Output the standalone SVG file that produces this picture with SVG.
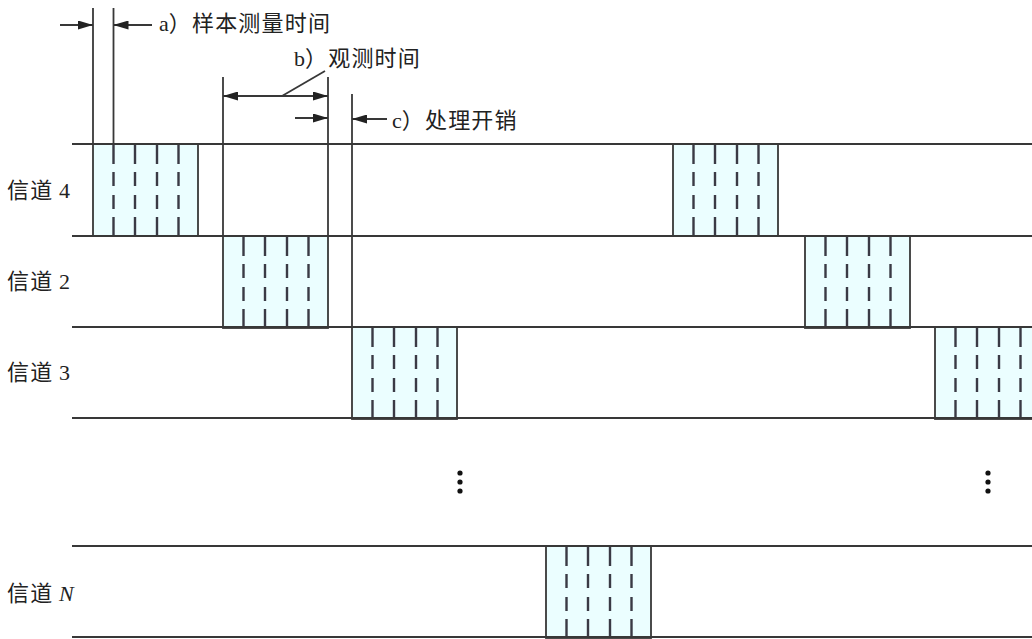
<svg xmlns="http://www.w3.org/2000/svg" width="1032" height="639" viewBox="0 0 1032 639">
<defs>
<style>
.ln{stroke:#383838;stroke-width:1.8;fill:none}
.blk{fill:#ebfeff;stroke:#383838;stroke-width:1.8}
.dash{stroke:#3a3a45;stroke-width:2.4;stroke-dasharray:20 8 14 9 14 8 20 100}
.lbl{font-family:"Liberation Serif","Noto Sans CJK SC",serif;font-size:22px;fill:#222}
.cjk{font-family:"Noto Sans CJK SC",sans-serif;letter-spacing:1.2px}
.dot{fill:#111}
</style>
<marker id="ah" viewBox="0 0 15 9" refX="15" refY="4.5" markerWidth="15" markerHeight="9" markerUnits="userSpaceOnUse" orient="auto-start-reverse">
<path d="M0,0 L15,4.5 L0,9 Z" fill="#222"/>
</marker>
<g id="slot">
<rect class="blk" x="0" y="0" width="105" height="92"/>
<line class="dash" x1="20.5" y1="0" x2="20.5" y2="92"/>
<line class="dash" x1="42" y1="0" x2="42" y2="92"/>
<line class="dash" x1="64" y1="0" x2="64" y2="92"/>
<line class="dash" x1="85.5" y1="0" x2="85.5" y2="92"/>
</g>
</defs>
<rect width="1032" height="639" fill="#fff"/>

<g id="channel-4">
<use href="#slot" x="93" y="144"/>
<use href="#slot" x="673" y="144"/>
<text class="lbl" x="7" y="198"><tspan class="cjk">信道</tspan> 4</text>
</g>
<g id="channel-2">
<use href="#slot" x="223" y="236"/>
<use href="#slot" x="805" y="236"/>
<text class="lbl" x="7" y="289"><tspan class="cjk">信道</tspan> 2</text>
</g>
<g id="channel-3">
<use href="#slot" x="352" y="327"/>
<use href="#slot" x="935" y="327"/>
<text class="lbl" x="7" y="380"><tspan class="cjk">信道</tspan> 3</text>
</g>
<g id="channel-N">
<use href="#slot" x="546" y="546"/>
<text class="lbl" x="7" y="601"><tspan class="cjk">信道</tspan> <tspan font-style="italic">N</tspan></text>
</g>
<g id="ellipsis">
<circle class="dot" cx="460" cy="473" r="2.6"/>
<circle class="dot" cx="460" cy="482" r="2.6"/>
<circle class="dot" cx="460" cy="491" r="2.6"/>
<circle class="dot" cx="988" cy="473" r="2.6"/>
<circle class="dot" cx="988" cy="482" r="2.6"/>
<circle class="dot" cx="988" cy="491" r="2.6"/>
</g>

<g id="timelines">
<line class="ln" x1="72" y1="144" x2="1032" y2="144"/>
<line class="ln" x1="72" y1="236" x2="1032" y2="236"/>
<line class="ln" x1="72" y1="327" x2="1032" y2="327"/>
<line class="ln" x1="72" y1="418" x2="1032" y2="418"/>
<line class="ln" x1="72" y1="546" x2="1032" y2="546"/>
<line class="ln" x1="72" y1="637" x2="1032" y2="637"/>
</g>

<g id="connectors">
<line class="ln" x1="93" y1="8" x2="93" y2="144"/>
<line class="ln" x1="113.5" y1="8" x2="113.5" y2="144"/>
<line class="ln" x1="223" y1="77" x2="223" y2="236"/>
<line class="ln" x1="328" y1="77" x2="328" y2="236"/>
<line class="ln" x1="352" y1="94" x2="352" y2="327"/>
<line class="ln" x1="60" y1="25" x2="93" y2="25" marker-end="url(#ah)"/>
<line class="ln" x1="152" y1="25" x2="113.5" y2="25" marker-end="url(#ah)"/>
<line class="ln" x1="223" y1="96" x2="328" y2="96" marker-start="url(#ah)" marker-end="url(#ah)"/>
<line class="ln" x1="282" y1="96" x2="325" y2="71"/>
<line class="ln" x1="295" y1="118" x2="328" y2="118" marker-end="url(#ah)"/>
<line class="ln" x1="387" y1="119" x2="352" y2="119" marker-end="url(#ah)"/>
</g>

<g id="annotations">
<text class="lbl" x="159" y="31">a<tspan class="cjk">）样本测量时间</tspan></text>
<text class="lbl" x="294" y="66">b<tspan class="cjk">）观测时间</tspan></text>
<text class="lbl" x="392" y="128">c<tspan class="cjk">）处理开销</tspan></text>
</g>
</svg>
